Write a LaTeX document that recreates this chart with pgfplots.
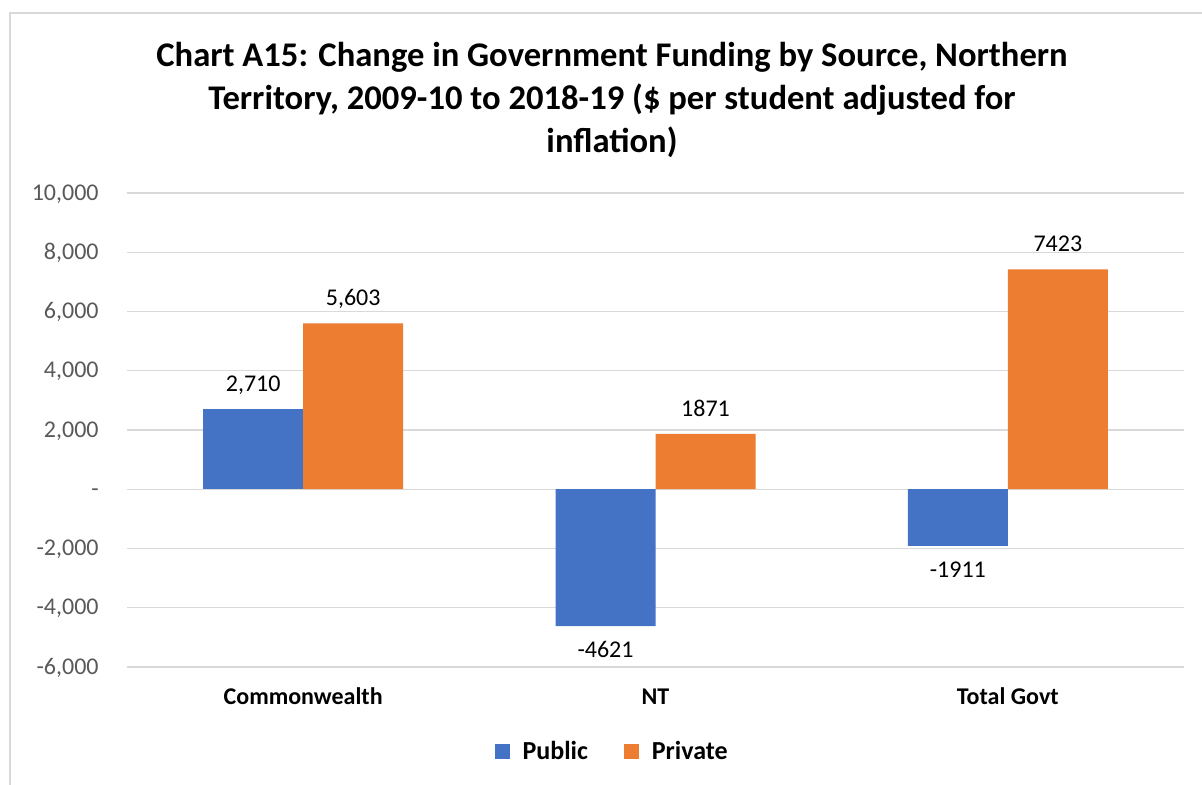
\documentclass[border=0pt]{standalone}
\usepackage{pgfplots}
\pgfplotsset{compat=1.18}
\usepackage{fontspec}
\setmainfont{Carlito}
\definecolor{pubblue}{HTML}{4472C4}
\definecolor{privorange}{HTML}{ED7D31}
\definecolor{gridgray}{HTML}{D9D9D9}
\definecolor{ticklab}{HTML}{595959}
\begin{document}
\begin{tikzpicture}
\useasboundingbox (0,0) rectangle (601bp,392.5bp);
\draw[gridgray, line width=0.75bp] (5bp,-10bp) rectangle (620bp,386bp);
\begin{scope}[every node/.style={anchor=base, font=\fontsize{17.3bp}{20bp}\selectfont\bfseries, inner sep=0pt}]
\node at (306bp,359bp) {Chart A15: Change in Government Funding by Source, Northern};
\node at (306bp,337.5bp) {Territory, 2009-10 to 2018-19 (\$ per student adjusted for};
\node at (306bp,316bp) {inflation)};
\end{scope}
\begin{axis}[
  at={(63.5bp,59bp)}, anchor=south west,
  scale only axis, width=528.5bp, height=237bp,
  ybar=0pt, bar width=50bp,
  xmin=-0.5, xmax=2.5, ymin=-6000, ymax=10000,
  xtick={0,1,2}, xticklabels={Commonwealth,NT,Total Govt},
  ytick={-6000,-4000,-2000,0,2000,4000,6000,8000,10000},
  scaled y ticks=false,
  yticklabels={{-6,000},{-4,000},{-2,000},{-\hspace{5.5bp}},{2,000},{4,000},{6,000},{8,000},{10,000}},
  axis line style={draw=none},
  major tick length=0pt,
  ymajorgrids, grid style={gridgray, line width=0.7bp},
  yticklabel style={font=\fontsize{12bp}{14bp}\selectfont, text=ticklab, anchor=base east, inner sep=0pt, xshift=-14bp, yshift=-3.6bp},
  xticklabel style={font=\fontsize{12bp}{14bp}\selectfont\bfseries, text=black, anchor=base, inner sep=0pt, yshift=-19bp},
  point meta=explicit symbolic,
  nodes near coords,
  nodes near coords style={font=\fontsize{12bp}{14bp}\selectfont, text=black, inner sep=0pt, anchor=base},
  legend style={at={(0.458,-0.179)}, anchor=center, draw=none, fill=none, legend columns=2,
    font=\fontsize{13bp}{15bp}\selectfont\bfseries,
    nodes={inner sep=0pt},
    /tikz/every odd column/.append style={column sep=6.5bp},
    /tikz/every even column/.append style={column sep=18bp}},
  legend image code/.code={\fill[#1] (0bp,-3.75bp) rectangle (7.5bp,3.75bp);},
]
\addplot[fill=pubblue, draw=none, bar shift=-25bp, nodes near coords style={yshift=8.7bp}]
  coordinates {(0,2710) [2,710]};
\addlegendentry{Public}
\addplot[fill=privorange, draw=none, bar shift=25bp, nodes near coords style={yshift=8.7bp}]
  coordinates {(0,5603) [5,603] (1,1871) [1871] (2,7423) [7423]};
\addlegendentry{Private}
\addplot[fill=pubblue, draw=none, bar shift=-25bp, forget plot, nodes near coords style={yshift=-15.7bp}]
  coordinates {(1,-4621) [-4621] (2,-1911) [-1911]};
\end{axis}
\end{tikzpicture}
\end{document}
